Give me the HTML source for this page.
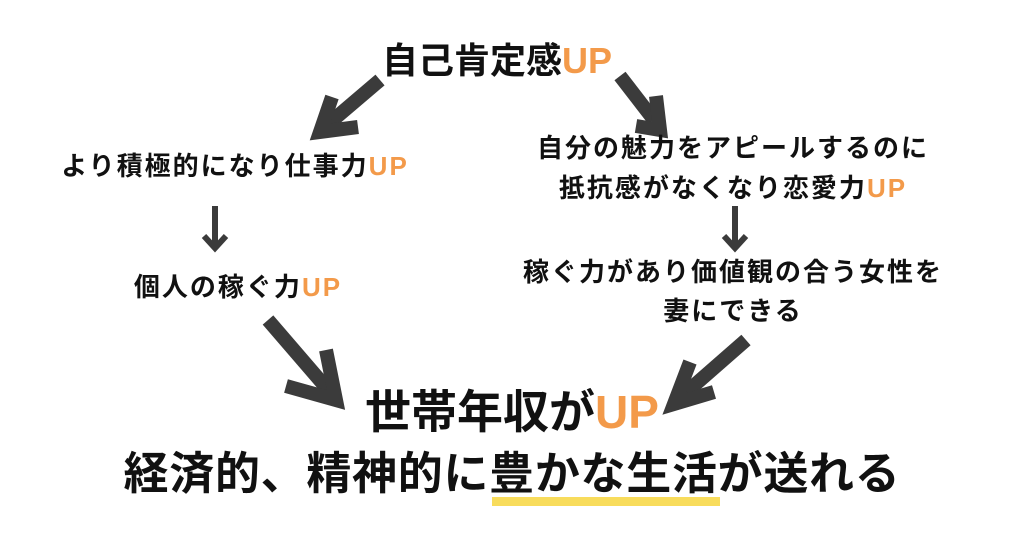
<!DOCTYPE html>
<html><head><meta charset="utf-8"><style>
html,body{margin:0;padding:0;background:#fff;}
body{width:1024px;height:538px;position:relative;overflow:hidden;font-family:"Liberation Sans","Noto Sans CJK JP",sans-serif;font-weight:bold;color:#111;}
.t{position:absolute;white-space:nowrap;text-align:center;line-height:1;}
.m{font-size:26px;letter-spacing:2px;}
.o{color:#f39a4a;}
svg{position:absolute;left:0;top:0;}
</style></head><body>
<svg width="1024" height="538">
<g stroke="#3b3b3b" stroke-linecap="butt" stroke-linejoin="miter" fill="none">
<g stroke-width="14">
<line x1="380" y1="80" x2="326" y2="126"/>
<polyline points="332,97 320,132 358,127"/>
<line x1="620" y1="76" x2="654" y2="120"/>
<polyline points="656,96 660,130 636,126"/>
<line x1="268" y1="320" x2="330" y2="392"/>
<polyline points="326,350 336,400 286,386"/>
<line x1="746" y1="340" x2="682" y2="396"/>
<polyline points="690,362 674,404 714,392"/>
</g>
<g stroke-width="6">
<line x1="215" y1="206" x2="215" y2="246"/>
<polyline points="204,236 215,248 226,236"/>
<line x1="735" y1="206" x2="735" y2="246"/>
<polyline points="724,236 735,248 746,236"/>
</g>
</g>
<rect x="492" y="497" width="228" height="9" fill="#f8dc5c"/>
</svg>
<div class="t" style="left:297px;width:400px;top:43px;font-size:36px;">自己肯定感<span class="o">UP</span></div>
<div class="t m" style="left:35px;width:400px;top:153px;">より積極的になり仕事力<span class="o">UP</span></div>
<div class="t m" style="left:483px;width:500px;top:135px;">自分の魅力をアピールするのに</div>
<div class="t m" style="left:483px;width:500px;top:175px;">抵抗感がなくなり恋愛力<span class="o">UP</span></div>
<div class="t m" style="left:88px;width:300px;top:274px;">個人の稼ぐ力<span class="o">UP</span></div>
<div class="t m" style="left:483px;width:500px;top:259px;">稼ぐ力があり価値観の合う女性を</div>
<div class="t m" style="left:483px;width:500px;top:298px;">妻にできる</div>
<div class="t" style="left:262px;width:500px;top:389px;font-size:46px;">世帯年収が<span class="o">UP</span></div>
<div class="t" style="left:62px;width:900px;top:451px;font-size:45px;letter-spacing:0.7px;">経済的、精神的に豊かな生活が送れる</div>
</body></html>
